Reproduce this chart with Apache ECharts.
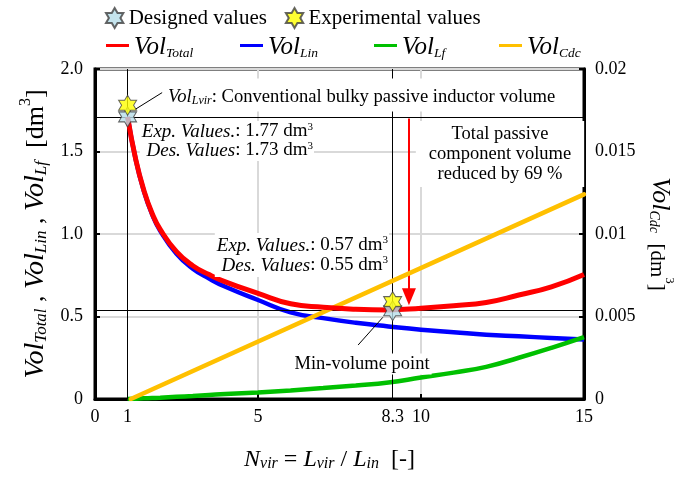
<!DOCTYPE html>
<html><head><meta charset="utf-8">
<script src="https://cdn.jsdelivr.net/npm/echarts@6/dist/echarts.min.js"></script>
<style>html,body{margin:0;padding:0;background:#fff}#c{width:695px;height:477px}</style>
</head><body><div id="c"></div>
<script>
// ---- data ----
const nvir     = [1, 1.25, 1.5, 1.75, 2, 2.5, 3, 3.5, 4, 5, 6, 7, 8, 9, 10, 11, 12, 13, 14, 15];
const volLin   = [1.71, 1.45, 1.26, 1.12, 1.02, 0.88, 0.79, 0.73, 0.68, 0.60, 0.525, 0.49, 0.462, 0.44, 0.42, 0.405, 0.39, 0.38, 0.37, 0.36];
const volLf    = [0, 0.002, 0.004, 0.006, 0.008, 0.013, 0.018, 0.024, 0.03, 0.04, 0.052, 0.066, 0.082, 0.10, 0.13, 0.16, 0.195, 0.25, 0.31, 0.375];
const volTotal = [1.71, 1.452, 1.264, 1.126, 1.028, 0.893, 0.808, 0.754, 0.71, 0.64, 0.577, 0.556, 0.544, 0.54, 0.55, 0.565, 0.585, 0.63, 0.68, 0.755];
const cdcN     = [1.1, 15];
const volCdc   = [0, 0.0124];
const desN = [1, 9.13], desV = [1.71, 0.535];
const expN = [1, 9.13], expV = [1.78, 0.59];
const refX = [1, 9.13];          // vertical reference lines
const refY = [1.71, 0.537];      // horizontal reference lines
const arrowN = 9.63, arrowFrom = 1.70, arrowTo = 0.62;
const callouts = [[[1.23, 1.755], [2.06, 1.857]], [[8.83, 0.495], [8.07, 0.327]]];
const xTickPos  = [0, 1, 5, 9.13, 10, 15];
const xTickText = ['0', '1', '5', '8.3', '10', '15'];

const FF = 'Liberation Serif';
const zip = (a, b) => a.map((v, i) => [v, b[i]]);
// fm: italic main, fs: subscript, fn: normal text, lh: line height
const rich = (fm, fs, fn, lh) => {
  lh = lh || Math.round(Math.max(fm, fn) + 4);
  return {
    i: {fontFamily: FF, fontStyle: 'italic', fontSize: fm, color: '#000', fill: '#000', lineHeight: lh, verticalAlign: 'bottom'},
    n: {fontFamily: FF, fontSize: fn, color: '#000', fill: '#000', lineHeight: lh, verticalAlign: 'bottom'},
    s: {fontFamily: FF, fontStyle: 'italic', fontSize: fs, color: '#000', fill: '#000', lineHeight: Math.round(fm * 0.6), verticalAlign: 'bottom'},
    sup: {fontFamily: FF, fontSize: Math.round(fn * 0.6), color: '#000', fill: '#000', lineHeight: Math.round(fn * 0.5), verticalAlign: 'top'}
  };
};
const hexStar = 'path://M0,-10 L2.885,-5 L8.66,-5 L5.77,0 L8.66,5 L2.885,5 L0,10 L-2.885,5 L-8.66,5 L-5.77,0 L-8.66,-5 L-2.885,-5 Z';

const chart = echarts.init(document.getElementById('c'), null, {renderer: 'canvas'});
const lineLegend = (name, left) => ({
  data: [name], left: left, top: 30, icon: 'rect', itemWidth: 23, itemHeight: 3, itemGap: 0,
  textStyle: {rich: rich(25, 13.5, 25)},
  formatter: n => '{i|Vol}{s|' + n.replace('Vol', '') + '}'
});
const option = {
  animation: false,
  backgroundColor: '#fff',
  grid: {left: 95, right: 111, top: 69, bottom: 75, show: true, borderColor: '#000', borderWidth: 3, backgroundColor: 'transparent'},
  legend: [
    {data: ['Designed values', 'Experimental values'], left: 100, top: 2, itemWidth: 18, itemHeight: 20, itemGap: 18,
     textStyle: {fontFamily: FF, fontSize: 21, color: '#000'}},
    lineLegend('VolTotal', 101),
    lineLegend('VolLin', 235),
    lineLegend('VolLf', 369),
    lineLegend('VolCdc', 494)
  ],
  xAxis: {
    type: 'value', min: 0, max: 15, interval: 5,
    name: '{i|N}{s|vir}{n| = }{i|L}{s|vir}{n| / }{i|L}{s|in}{n|  [-]}',
    nameLocation: 'middle', nameGap: 45,
    nameTextStyle: {rich: rich(24, 16, 24), padding: [0, 20, 0, 0]},
    axisLine: {lineStyle: {color: '#000', width: 3}},
    axisTick: {inside: true, length: 5, lineStyle: {color: '#000', width: 2}},
    axisLabel: {customValues: xTickPos, formatter: v => xTickText[xTickPos.indexOf(v)] ?? '', fontFamily: FF, fontSize: 18, color: '#000', margin: 9},
    splitLine: {show: true, lineStyle: {color: '#d9d9d9', width: 2}}
  },
  yAxis: [
    {type: 'value', min: 0, max: 2, interval: 0.5,
     name: '{i|Vol}{s|Total}{n| , }{i|Vol}{s|Lin}{n| , }{i|Vol}{s|Lf}{n|  [dm}{sup|3}{n|]}',
     nameLocation: 'middle', nameGap: 43, nameRotate: 90,
     nameTextStyle: {rich: rich(28, 17, 26)},
     axisLine: {show: true, lineStyle: {color: '#000', width: 3}},
     axisTick: {show: true, inside: true, length: 5, lineStyle: {color: '#000', width: 2}},
     axisLabel: {formatter: v => v === 0 ? '0' : v.toFixed(1), fontFamily: FF, fontSize: 18, color: '#000', margin: 12},
     splitLine: {show: true, lineStyle: {color: '#d9d9d9', width: 2}}},
    {type: 'value', min: 0, max: 0.02, interval: 0.005, position: 'right',
     name: '{i|Vol}{s|Cdc}{n|  [dm}{sup|3}{n|]}',
     nameLocation: 'middle', nameGap: 58, nameRotate: -90,
     nameTextStyle: {rich: rich(26, 14, 21)},
     axisLine: {show: true, lineStyle: {color: '#000', width: 3}},
     axisTick: {show: true, inside: true, length: 5, lineStyle: {color: '#000', width: 2}},
     axisLabel: {fontFamily: FF, fontSize: 18, color: '#000', margin: 11},
     splitLine: {show: false}}
  ],
  series: [
    {name: 'refs', type: 'line', data: [], silent: true, z: 3,
     markLine: {silent: true, symbol: 'none', label: {show: false}, animation: false,
       lineStyle: {color: '#000', width: 1, type: 'solid'},
       data: [
         ...refX.map(x => ({xAxis: x})),
         ...refY.map(y => ({yAxis: y})),
         ...callouts.map(c => [{coord: c[0]}, {coord: c[1]}])
       ]}},
    {name: 'VolLin', type: 'line', smooth: true, showSymbol: false, data: zip(nvir, volLin), color: '#0000ff', lineStyle: {width: 4.5, color: '#0000ff'}, z: 4},
    {name: 'VolLf', type: 'line', smooth: true, showSymbol: false, data: zip(nvir, volLf), color: '#00c000', lineStyle: {width: 4.5, color: '#00c000'}, z: 4},
    {name: 'VolCdc', type: 'line', yAxisIndex: 1, showSymbol: false, data: zip(cdcN, volCdc), color: '#ffc000', lineStyle: {width: 4.5, color: '#ffc000', cap: 'round'}, z: 5},
    {name: 'VolTotal', type: 'line', smooth: true, showSymbol: false, data: zip(nvir, volTotal), color: '#ff0000', lineStyle: {width: 5, color: '#ff0000'}, z: 6,
     markLine: {silent: true, symbol: ['none', 'triangle'], symbolSize: [14, 17], label: {show: false}, animation: false,
       lineStyle: {color: '#ff0000', width: 2, type: 'solid'},
       data: [[{coord: [arrowN, arrowFrom]}, {coord: [arrowN, arrowTo]}]]}},
    {name: 'Designed values', type: 'scatter', symbol: hexStar, symbolSize: [18, 20], data: zip(desN, desV),
     itemStyle: {color: '#b7dde8', borderColor: '#404040', borderWidth: 1}, z: 10},
    {name: 'Experimental values', type: 'scatter', symbol: hexStar, symbolSize: [18, 20], data: zip(expN, expV),
     itemStyle: {color: '#ffff00', borderColor: '#404040', borderWidth: 1}, z: 11}
  ],
  graphic: {elements: [
    {type: 'text', x: 165, y: 95, z: 100, style: {text: '{i|Vol}{s|Lvir}{n|: Conventional bulky passive inductor volume}', rich: rich(18.6, 12, 18.6), align: 'left', verticalAlign: 'middle', backgroundColor: '#fff', padding: [5, 3, 5, 3]}},
    {type: 'text', x: 314, y: 141, z: 100, style: {text: '{i|Exp. Values.}{n|: 1.77 dm}{sup|3}\n{i|Des. Values}{n|: 1.73 dm}{sup|3}', rich: rich(19, 12, 19, 19), align: 'right', verticalAlign: 'middle', backgroundColor: '#fff', padding: [1, 1, 1, 2]}},
    {type: 'text', x: 389, y: 255, z: 100, style: {text: '{i|Exp. Values.}{n|: 0.57 dm}{sup|3}\n{i|Des. Values}{n|: 0.55 dm}{sup|3}', rich: rich(19, 12, 19, 20), align: 'right', verticalAlign: 'middle', backgroundColor: '#fff', padding: [2, 1, 2, 2]}},
    {type: 'text', x: 500, y: 154, z: 100, style: {text: 'Total passive\ncomponent volume\nreduced by 69 %', font: '18.5px "Liberation Serif"', lineHeight: 20, fill: '#000', align: 'center', verticalAlign: 'middle', backgroundColor: '#fff', padding: [3, 13, 3, 13]}},
    {type: 'text', x: 362, y: 364, z: 100, style: {text: 'Min-volume point', font: '18.5px "Liberation Serif"', fill: '#000', align: 'center', verticalAlign: 'middle', backgroundColor: '#fff', padding: [1, 2, 1, 2]}}
  ]}
};
chart.setOption(option);
</script></body></html>
